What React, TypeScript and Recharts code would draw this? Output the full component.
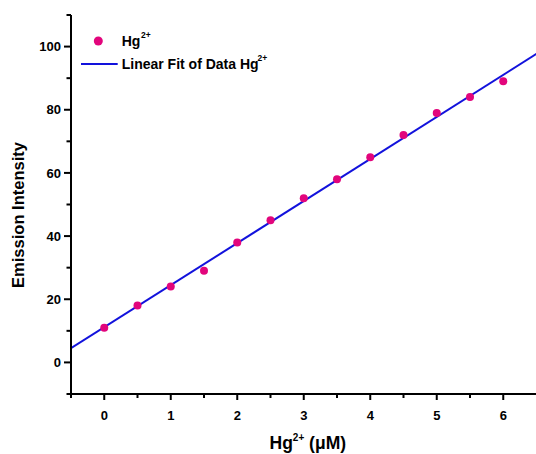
import React from 'react';
import { ComposedChart, Scatter, Line, XAxis, YAxis } from 'recharts';

// Data
const concentrations = [0, 0.5, 1, 1.5, 2, 2.5, 3, 3.5, 4, 4.5, 5, 5.5, 6];
const intensities = [11, 18, 24, 29, 38, 45, 52, 58, 65, 72, 79, 84, 89];
const fitX = [-0.5, 6.5];
const fitY = [4.5, 97.7];
const xTicks = [-0.5, 0, 0.5, 1, 1.5, 2, 2.5, 3, 3.5, 4, 4.5, 5, 5.5, 6];
const yTicks = [-10, 0, 10, 20, 30, 40, 50, 60, 70, 80, 90, 100, 110];
const xDomain = [-0.5, 6.5];
const yDomain = [-10, 110];

const pointData = concentrations.map((x, i) => ({ x, y: intensities[i] }));
const fitData = fitX.map((x, i) => ({ x, y: fitY[i] }));

const FONT = '"Liberation Sans", Arial, sans-serif';
const MAGENTA = '#e2057c';
const BLUE = '#1212dc';

const XTick = (props: any) => {
  const { x, y, payload } = props;
  const v = payload.value;
  const major = Number.isInteger(v);
  return (
    <g>
      <line x1={x} x2={x} y1={y} y2={y + (major ? 6 : 4)} stroke="#000" strokeWidth={2} />
      {major && (
        <text x={x} y={y + 26} textAnchor="middle" fontFamily={FONT} fontWeight="bold" fontSize={13} fill="#000">
          {v}
        </text>
      )}
    </g>
  );
};

const YTick = (props: any) => {
  const { x, y, payload } = props;
  const v = payload.value;
  const major = v % 20 === 0 && v >= 0 && v <= 100;
  return (
    <g>
      <line x1={x} x2={x - (major ? 7 : 4.5)} y1={y} y2={y} stroke="#000" strokeWidth={2} />
      {major && (
        <text x={x - 10} y={y + 4.7} textAnchor="end" fontFamily={FONT} fontWeight="bold" fontSize={13} fill="#000">
          {v}
        </text>
      )}
    </g>
  );
};

const Dot = (props: any) => {
  const { cx, cy } = props;
  return <circle cx={cx} cy={cy} r={4} fill={MAGENTA} />;
};

export default function App() {
  return (
    <div style={{ position: 'absolute', left: 0, top: 0, width: 536, height: 454, overflow: 'hidden', background: '#fff' }}>
      <ComposedChart
        width={537}
        height={454}
        margin={{ top: 15, right: 0.5, bottom: 0, left: 0 }}
      >
        <XAxis
          dataKey="x"
          type="number"
          domain={xDomain}
          ticks={xTicks}
          interval={0}
          allowDataOverflow
          height={60}
          tickSize={0}
          tickMargin={0}
          tickLine={false}
          tick={XTick}
          axisLine={{ stroke: '#000', strokeWidth: 2 }}
        />
        <XAxis
          xAxisId="top"
          orientation="top"
          type="number"
          domain={xDomain}
          allowDataOverflow
          height={0}
          tick={false}
          tickLine={false}
          axisLine={{ stroke: '#000', strokeWidth: 2 }}
        />
        <YAxis
          dataKey="y"
          type="number"
          domain={yDomain}
          ticks={yTicks}
          interval={0}
          allowDataOverflow
          width={71}
          tickSize={0}
          tickMargin={0}
          tickLine={false}
          tick={YTick}
          axisLine={{ stroke: '#000', strokeWidth: 2 }}
        />
        <YAxis
          yAxisId="right"
          orientation="right"
          type="number"
          domain={yDomain}
          allowDataOverflow
          width={0}
          tick={false}
          tickLine={false}
          axisLine={{ stroke: '#000', strokeWidth: 2 }}
        />
        <Scatter data={pointData} dataKey="y" shape={Dot} isAnimationActive={false} />
        <Line
          data={fitData}
          dataKey="y"
          type="linear"
          stroke={BLUE}
          strokeWidth={2}
          dot={false}
          activeDot={false}
          isAnimationActive={false}
        />
      </ComposedChart>
      <svg
        width={536}
        height={454}
        style={{ position: 'absolute', left: 0, top: 0, pointerEvents: 'none' }}
        fontFamily={FONT}
        fontWeight="bold"
      >
        {/* Legend */}
        <circle cx={98.3} cy={41} r={4.5} fill={MAGENTA} />
        <text x={121.7} y={45.5} fontSize={14} fill="#000">Hg</text>
        <text x={141} y={38} fontSize={8.5} fill="#000">2+</text>
        <line x1={81} x2={117.7} y1={64} y2={64} stroke={BLUE} strokeWidth={2} />
        <text x={121.7} y={68.5} fontSize={14} fill="#000">Linear Fit of Data Hg</text>
        <text x={257.5} y={61} fontSize={8.5} fill="#000">2+</text>
        {/* Y title */}
        <text
          transform="translate(23.5,215) rotate(-90)"
          textAnchor="middle"
          fontSize={16.5}
          fill="#000"
        >
          Emission Intensity
        </text>
        {/* X title */}
        <text x={269.5} y={449} fontSize={17.5} fill="#000">
          Hg
          <tspan dy={-8} fontSize={10}>2+</tspan>
          <tspan dy={8} fontSize={17.5}> (μM)</tspan>
        </text>
      </svg>
    </div>
  );
}
